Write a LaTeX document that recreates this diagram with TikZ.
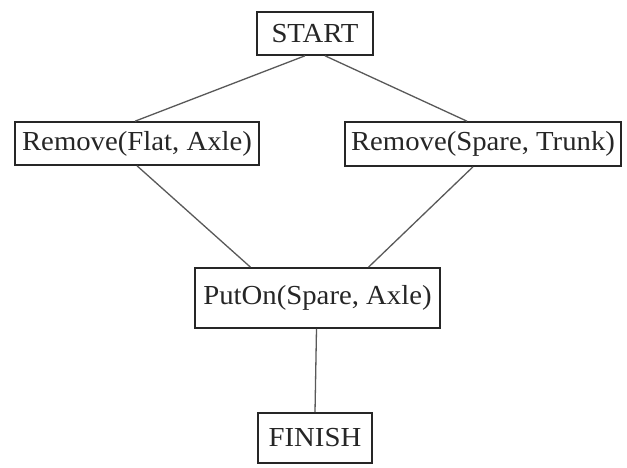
\documentclass[tikz,border=0pt]{standalone}
\usepackage{fontspec}
\setmainfont{Liberation Serif}
% labels set slightly wide, as in the plan drawing
\newcommand{\widelabel}[1]{\scalebox{1.045}[1]{#1}}
\begin{document}
\begin{tikzpicture}[x=1pt,y=1pt,
  stepbox/.style={draw=black!85,line width=1.6pt,fill=white,inner sep=0pt,
    font=\fontsize{27.5}{30}\selectfont,text=black!85},
  link/.style={draw=black!65,line width=1.3pt}]
\useasboundingbox[fill=white] (0,0) rectangle (627,-468);
% operator boxes
\node[stepbox,minimum width=116,minimum height=43] (start) at (315,-33.5) {\widelabel{START}};
\node[stepbox,minimum width=244,minimum height=43] (rf) at (137,-143.5) {\widelabel{Remove(Flat, Axle)}};
\node[stepbox,minimum width=276,minimum height=44] (rs) at (483,-144) {\widelabel{Remove(Spare, Trunk)}};
\node[stepbox,minimum width=245,minimum height=60] (put) at (317.5,-298) {\widelabel{PutOn(Spare, Axle)}};
\node[stepbox,minimum width=114,minimum height=50] (fin) at (315,-438) {\widelabel{FINISH}};
% ordering links
\draw[link] ([xshift=-10pt]start.south) -- ([xshift=-2pt]rf.north);
\draw[link] ([xshift=10pt]start.south) -- ([xshift=-16pt]rs.north);
\draw[link] ([xshift=0pt]rf.south) -- ([xshift=-67pt]put.north);
\draw[link] ([xshift=-10pt]rs.south) -- ([xshift=51pt]put.north);
\draw[link] ([xshift=-1pt]put.south) -- (fin.north);
\end{tikzpicture}
\end{document}
